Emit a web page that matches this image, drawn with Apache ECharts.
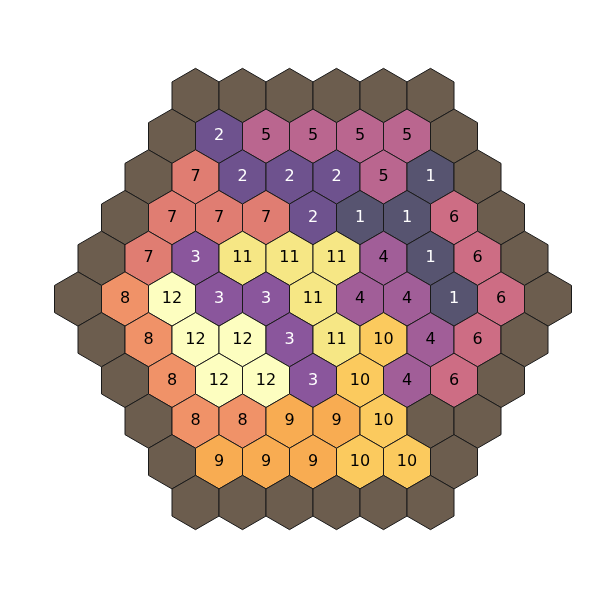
<!DOCTYPE html>
<html><head><meta charset="utf-8">
<script src="https://cdn.jsdelivr.net/npm/echarts@6/dist/echarts.min.js"></script>
<style>html,body{margin:0;padding:0;background:#fff}#c{width:600px;height:600px}</style>
</head><body><div id="c"></div>
<script>
// Hex board rows, top to bottom (0 = border cell, unlabeled)
const row0 = [0, 0, 0, 0, 0, 0];
const row1 = [0, 2, 5, 5, 5, 5, 0];
const row2 = [0, 7, 2, 2, 2, 5, 1, 0];
const row3 = [0, 7, 7, 7, 2, 1, 1, 6, 0];
const row4 = [0, 7, 3, 11, 11, 11, 4, 1, 6, 0];
const row5 = [0, 8, 12, 3, 3, 11, 4, 4, 1, 6, 0];
const row6 = [0, 8, 12, 12, 3, 11, 10, 4, 6, 0];
const row7 = [0, 8, 12, 12, 3, 10, 4, 6, 0];
const row8 = [0, 8, 8, 9, 9, 10, 0, 0];
const row9 = [0, 9, 9, 9, 10, 10, 0];
const row10 = [0, 0, 0, 0, 0, 0];
const rows = [row0, row1, row2, row3, row4, row5, row6, row7, row8, row9, row10];

const colors = {
  0: '#6c5d4e', 1: '#575470', 2: '#6e528e', 3: '#8a569c', 4: '#a15e98',
  5: '#ba668f', 6: '#cd6d84', 7: '#e07d72', 8: '#f09268', 9: '#f8ac52',
  10: '#fbca5e', 11: '#f6e785', 12: '#fdfec0'
};

const data = [];
rows.forEach((r, ri) => {
  r.forEach((v, ci) => {
    data.push([ci - (r.length - 1) / 2, ri, v]);
  });
});

const chart = echarts.init(document.getElementById('c'));
chart.setOption({
  animation: false,
  grid: { left: 31, width: 564, top: 54.8, height: 488.4 },
  xAxis: { type: 'value', min: -6, max: 6, show: false },
  yAxis: { type: 'value', min: -1, max: 11, inverse: true, show: false },
  series: [{
    type: 'custom',
    data: data,
    renderItem: function (params, api) {
      const x = api.value(0), y = api.value(1), v = api.value(2);
      const pts = [
        [x, y - 2 / 3], [x + 0.5, y - 1 / 3], [x + 0.5, y + 1 / 3],
        [x, y + 2 / 3], [x - 0.5, y + 1 / 3], [x - 0.5, y - 1 / 3]
      ].map(p => api.coord(p));
      const c = api.coord([x, y]);
      const children = [{
        type: 'polygon',
        shape: { points: pts },
        style: { fill: colors[v], stroke: '#1a1a1a', lineWidth: 1 }
      }];
      if (v > 0) {
        children.push({
          type: 'text',
          style: {
            text: String(v), x: c[0], y: c[1], align: 'center', verticalAlign: 'middle',
            fontFamily: 'DejaVu Sans', fontSize: 16,
            fill: v <= 3 ? '#ffffff' : '#000000'
          }
        });
      }
      return { type: 'group', children: children };
    }
  }]
});
</script></body></html>
